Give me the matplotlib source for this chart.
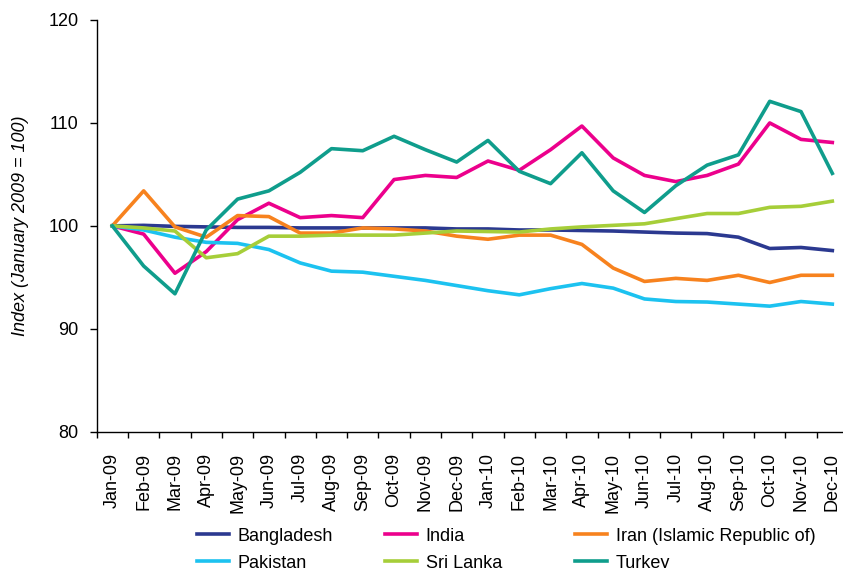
import matplotlib.pyplot as plt
import numpy as np

# monthly price index, January 2009 = 100
months = ["Jan-09", "Feb-09", "Mar-09", "Apr-09", "May-09", "Jun-09", "Jul-09", "Aug-09",
          "Sep-09", "Oct-09", "Nov-09", "Dec-09", "Jan-10", "Feb-10", "Mar-10", "Apr-10",
          "May-10", "Jun-10", "Jul-10", "Aug-10", "Sep-10", "Oct-10", "Nov-10", "Dec-10"]

bangladesh = [100, 100.05, 99.95, 99.9, 99.85, 99.85, 99.8, 99.8, 99.8, 99.8, 99.8, 99.7,
              99.7, 99.6, 99.6, 99.55, 99.5, 99.4, 99.3, 99.25, 98.9, 97.8, 97.9, 97.6]
india = [100, 99.2, 95.4, 97.5, 100.6, 102.2, 100.8, 101.0, 100.8, 104.5, 104.9, 104.7,
         106.3, 105.4, 107.4, 109.7, 106.6, 104.9, 104.3, 104.9, 106.0, 110.0, 108.4, 108.1]
iran = [100, 103.4, 99.9, 98.9, 101.0, 100.9, 99.3, 99.3, 99.8, 99.7, 99.5, 99.0,
        98.7, 99.1, 99.1, 98.2, 95.9, 94.6, 94.9, 94.7, 95.2, 94.5, 95.2, 95.2]
pakistan = [100, 99.6, 98.9, 98.4, 98.3, 97.7, 96.4, 95.6, 95.5, 95.1, 94.7, 94.2,
            93.7, 93.3, 93.9, 94.4, 93.95, 92.9, 92.65, 92.6, 92.4, 92.2, 92.65, 92.4]
sri_lanka = [100, 99.8, 99.5, 96.9, 97.3, 99.0, 99.0, 99.1, 99.1, 99.1, 99.3, 99.5,
             99.45, 99.4, 99.7, 99.9, 100.05, 100.2, 100.7, 101.2, 101.2, 101.8, 101.9, 102.4]
turkey = [100, 96.1, 93.4, 99.6, 102.6, 103.4, 105.2, 107.5, 107.3, 108.7, 107.4, 106.2,
          108.3, 105.3, 104.1, 107.1, 103.4, 101.3, 103.9, 105.9, 106.9, 112.1, 111.1, 105.1]

series = [
    ("Bangladesh", bangladesh, "#2B3990"),
    ("India", india, "#EC008C"),
    ("Iran (Islamic Republic of)", iran, "#F7821E"),
    ("Pakistan", pakistan, "#1CC2F0"),
    ("Sri Lanka", sri_lanka, "#A6CE39"),
    ("Turkey", turkey, "#0F9D8C"),
]

plt.rcParams["font.family"] = ["Liberation Sans", "DejaVu Sans"]
FS = 13

fig = plt.figure(figsize=(8.43, 5.68), dpi=100)
ax = fig.add_axes([0.1147, 0.2399, 0.8912, 0.7249])

x = np.arange(len(months))
handles = []
for name, vals, col in series:
    h, = ax.plot(x, vals, color=col, lw=2.6, label=name)
    handles.append(h)

ax.set_xlim(-0.5, len(months) - 0.5)
ax.set_ylim(80, 120)
ax.set_yticks([80, 90, 100, 110, 120])
ax.tick_params(axis="y", labelsize=FS, length=5, width=1, direction="out", pad=8)

# category labels centred, tick marks between categories
ax.set_xticks(x)
ax.set_xticklabels(months, rotation=90, fontsize=FS)
ax.tick_params(axis="x", which="major", length=0, pad=15)
ax.set_xticks(np.arange(-0.5, len(months), 1), minor=True)
ax.tick_params(axis="x", which="minor", length=4, width=1, direction="out")

for s in ["top", "right"]:
    ax.spines[s].set_visible(False)
ax.spines["left"].set_linewidth(1)
ax.spines["bottom"].set_linewidth(1)

ax.set_ylabel("Index (January 2009 = 100)", fontsize=FS, style="italic", labelpad=14)

# one legend per column so columns sit at fixed positions
col_x = [197, 385, 575]
for i, cx in enumerate(col_x):
    fig.legend(handles=[handles[i], handles[i + 3]], loc="upper left",
               bbox_to_anchor=(cx / 843, 0.071), frameon=False, fontsize=FS,
               handlelength=1.75, handletextpad=0.5, labelspacing=0.55,
               borderpad=0, borderaxespad=0)

fig.savefig("out.png", dpi=100)
